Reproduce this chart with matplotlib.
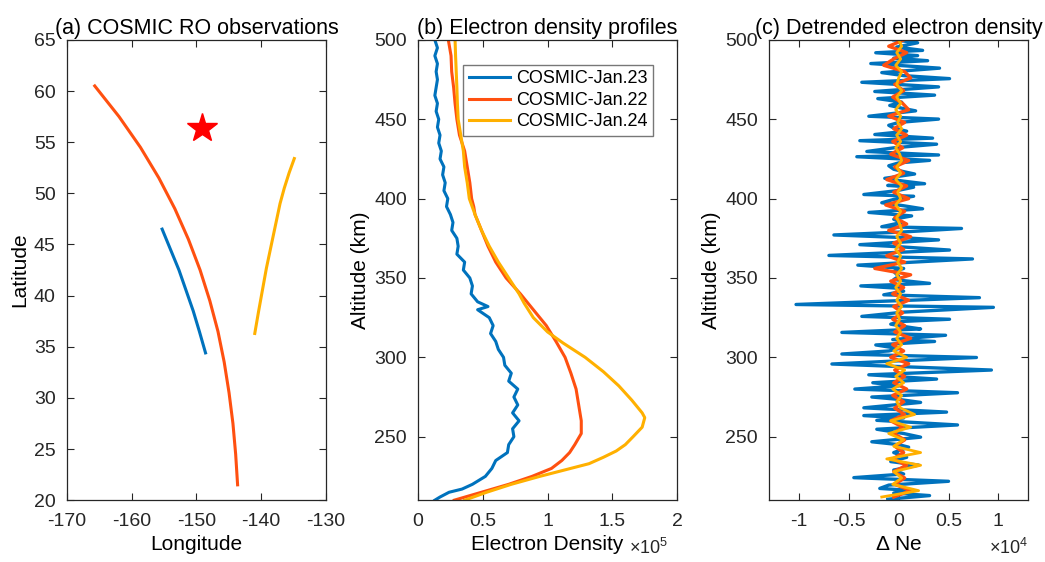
import numpy as np
import matplotlib.pyplot as plt

plt.rcParams['font.family'] = ['Liberation Sans', 'DejaVu Sans']
plt.rcParams['mathtext.fontset'] = 'custom'
plt.rcParams['mathtext.rm'] = 'Liberation Sans'
plt.rcParams['axes.unicode_minus'] = False

C_BLUE = '#0072BD'
C_ORANGE = '#FF5010'
C_YELLOW = '#FFB000'

# (a) RO tangent point tracks (lon, lat)
track23_lon = [-155.3, -154.0, -152.7, -151.6, -150.5, -149.55, -148.6]
track23_lat = [46.5, 44.5, 42.5, 40.5, 38.5, 36.5, 34.4]
track22_lon = [-165.7, -161.95, -158.65, -155.8, -153.34, -151.24, -149.44, -147.94,
               -146.68, -145.72, -144.97, -144.37, -143.95, -143.65]
track22_lat = [60.5, 57.5, 54.5, 51.5, 48.5, 45.5, 42.5, 39.5, 36.5, 33.5, 30.5, 27.5, 24.5, 21.5]
track24_lon = [-141.0, -140.4, -139.8, -139.2, -138.5, -137.8, -137.1, -136.45, -135.7, -134.9]
track24_lat = [36.3, 38.5, 40.6, 42.7, 44.8, 46.9, 49.0, 50.5, 52.0, 53.4]
star_lon, star_lat = -149.1, 56.4

# (b) electron density profiles, x1e5
ne23_alt = [500, 495, 490, 485, 480, 475, 470, 465, 460, 455, 450, 445, 440, 435, 430, 425,
            420, 415, 410, 405, 400, 395, 390, 385, 380, 375, 370, 365, 360, 355, 350, 345,
            340, 335, 332, 330, 325, 320, 315, 310, 305, 300, 295, 290, 285, 280, 275, 270,
            265, 260, 255, 250, 245, 240, 235, 230, 225, 220, 217, 215, 212, 210]
ne23 = [0.13, 0.15, 0.13, 0.15, 0.14, 0.15, 0.14, 0.13, 0.15, 0.14, 0.16, 0.15, 0.17, 0.16, 0.18, 0.17,
        0.20, 0.19, 0.21, 0.20, 0.23, 0.22, 0.25, 0.27, 0.26, 0.30, 0.31, 0.30, 0.36, 0.35, 0.40, 0.42,
        0.41, 0.46, 0.54, 0.46, 0.55, 0.58, 0.56, 0.60, 0.62, 0.66, 0.67, 0.72, 0.70, 0.77, 0.74, 0.77,
        0.73, 0.78, 0.73, 0.74, 0.70, 0.69, 0.60, 0.57, 0.52, 0.42, 0.34, 0.24, 0.17, 0.13]
ne22_alt = [500, 490, 480, 470, 460, 450, 440, 430, 420, 410, 400, 395, 390, 380, 370, 360, 350,
            340, 330, 320, 310, 300, 290, 280, 270, 260, 252, 245, 240, 235, 230, 225, 220, 215, 210]
ne22 = [0.234, 0.255, 0.26, 0.275, 0.286, 0.30, 0.32, 0.36, 0.38, 0.40, 0.414, 0.43, 0.44, 0.49, 0.54, 0.60, 0.68,
        0.79, 0.89, 0.99, 1.065, 1.135, 1.18, 1.22, 1.24, 1.26, 1.26, 1.21, 1.17, 1.11, 1.03, 0.88, 0.70, 0.49, 0.28]
ne24_alt = [500, 490, 480, 470, 460, 450, 440, 430, 420, 410, 400, 390, 380, 370, 360, 350, 340, 334,
            325, 316, 309, 300, 291, 282, 273, 265, 262, 256, 250, 245, 241, 237, 233, 229, 225, 220, 215, 210]
ne24 = [0.286, 0.29, 0.295, 0.30, 0.304, 0.31, 0.33, 0.35, 0.36, 0.38, 0.396, 0.44, 0.49, 0.55, 0.62, 0.70, 0.78, 0.82,
        0.89, 1.00, 1.12, 1.29, 1.43, 1.55, 1.65, 1.73, 1.75, 1.73, 1.66, 1.60, 1.53, 1.43, 1.32, 1.13, 0.94, 0.72, 0.53, 0.36]

# (c) detrended electron density, x1e4
dn23_alt = [500, 498.2, 495.5, 493.4, 491.9, 490.1, 488.5, 486.9, 485.1, 482.2,
            479.4, 477.5, 475.6, 473.3, 470.4, 467.5, 465.2, 463.0, 460.8, 458.7,
            457.0, 455.3, 451.9, 450.1, 448.0, 446.2, 444.4, 442.5, 440.4, 438.1,
            436.5, 434.3, 432.0, 429.7, 427.5, 426.4, 424.1, 422.5, 420.7, 418.5,
            417.0, 415.5, 412.8, 411.0, 409.4, 408.3, 407.2, 405.0, 402.6, 401.5,
            399.5, 397.4, 395.5, 393.6, 391.3, 389.1, 387.0, 385.0, 382.3, 381.2,
            379.0, 377.1, 375.5, 374.0, 371.0, 369.5, 367.6, 364.2, 362.0, 358.1,
            356.0, 354.1, 351.0, 349.0, 346.6, 345.0, 343.5, 341.7, 339.4, 337.6,
            333.3, 331.5, 328.5, 325.8, 324.0, 322.5, 320.9, 319.0, 317.9, 315.7,
            313.9, 311.2, 310.0, 307.8, 305.5, 304.0, 302.1, 299.9, 297.8, 295.8,
            292.0, 289.0, 286.3, 284.0, 282.0, 280.0, 277.7, 275.0, 273.5, 271.6,
            268.2, 265.5, 263.3, 261.8, 260.3, 257.4, 254.7, 252.0, 249.7, 246.8,
            245.0, 243.4, 240.0, 237.0, 234.3, 232.1, 229.0, 226.5, 224.2, 221.9,
            219.5, 217.4, 216.3, 214.5, 212.9, 210.6]
dn23 = [-0.05, 0.19, -0.02, 0.24, -0.23, 0.19, -0.05, 0.29, -0.28, 0.41,
        -0.17, 0.05, 0.51, -0.37, 0.40, -0.24, 0.36, -0.21, 0.03, -0.09,
        0.03, 0.17, -0.30, 0.40, 0.00, -0.10, -0.05, 0.08, -0.24, 0.34,
        -0.39, 0.38, -0.05, -0.32, 0.40, -0.42, 0.31, 0.00, -0.10, -0.05,
        0.05, 0.16, -0.14, 0.05, 0.26, -0.11, 0.15, -0.02, -0.35, 0.15,
        -0.05, -0.17, 0.05, 0.24, -0.30, 0.13, -0.05, 0.03, -0.17, 0.63,
        0.05, -0.65, 0.02, 0.40, -0.39, 0.05, 0.51, -0.70, 0.74, -0.41,
        0.05, -0.05, 0.00, -0.05, 0.31, -0.38, 0.00, 0.05, -0.15, 0.81,
        -1.03, 0.95, 0.05, -0.37, 0.51, 0.00, -0.08, 0.10, 0.22, -0.57,
        0.47, -0.06, 0.36, -0.23, 0.00, -0.10, -0.57, 0.78, 0.00, -0.67,
        0.93, -0.30, 0.38, -0.26, 0.00, -0.44, 0.59, -0.27, 0.00, 0.22,
        -0.35, 0.48, -0.35, 0.05, -0.22, 0.59, -0.22, 0.05, 0.22, -0.27,
        0.00, 0.10, -0.05, 0.08, -0.08, 0.20, -0.05, 0.05, -0.45, 0.50,
        -0.10, -0.19, 0.09, -0.05, 0.31, -0.11]
dn_alt = [500, 496, 492, 488, 484, 480, 476, 472, 468, 464, 460, 456, 452, 448, 444, 440, 436, 432, 428,
          424, 420, 416, 412, 408, 404, 400, 396, 392, 388, 384, 380, 376, 372, 368, 364, 360, 356, 352,
          348, 344, 340, 336, 332, 328, 324, 320, 316, 312, 308, 304, 300, 296, 292, 288, 284, 280, 276,
          272, 268, 264, 260, 256, 252, 248, 244, 240, 236, 232, 228, 224, 220, 216, 212]
dn22 = [0.05, -0.10, 0.08, -0.05, -0.15, 0.06, 0.12, -0.04, 0.05, -0.06, 0.04, 0.10, -0.10, 0.06, -0.05, 0.08, -0.06, 0.04, -0.08,
        0.10, -0.04, 0.05, -0.12, 0.08, -0.05, 0.10, -0.13, 0.06, -0.04, 0.08, -0.10, 0.12, -0.05, 0.05, -0.12, 0.06, -0.24, 0.12,
        -0.08, 0.05, -0.06, 0.10, -0.05, 0.04, -0.06, 0.06, -0.04, 0.12, -0.06, 0.05, -0.08, 0.10, -0.04, 0.06, -0.05, 0.08, -0.06,
        0.05, -0.04, 0.06, -0.08, 0.04, -0.05, 0.06, -0.04, 0.05, -0.06, 0.08, -0.05, 0.06, -0.04, 0.12, -0.05]
dn24 = [0.00, 0.03, -0.02, 0.02, -0.03, 0.03, 0.00, -0.02, 0.03, -0.02, 0.02, -0.03, 0.02, -0.01, 0.03, -0.02, 0.02, -0.03, 0.01,
        0.03, -0.02, 0.02, -0.03, 0.03, -0.01, 0.02, -0.03, 0.02, -0.02, 0.01, 0.03, -0.02, 0.02, -0.03, 0.02, -0.01, 0.03, -0.02,
        0.02, -0.03, 0.02, -0.02, 0.03, -0.02, 0.01, -0.03, 0.02, -0.02, 0.03, -0.05, 0.08, -0.12, 0.06, -0.03, 0.05, -0.06, 0.03,
        -0.02, 0.02, 0.16, -0.08, 0.12, -0.10, 0.05, -0.05, 0.22, -0.12, 0.22, -0.05, 0.03, -0.06, 0.20, -0.17]


def style(ax):
    ax.tick_params(direction='in', top=True, right=True, length=5, width=0.8,
                   labelsize=14, colors='#262626')
    ax.tick_params(axis='x', pad=9)
    ax.tick_params(axis='y', pad=8)
    for s in ax.spines.values():
        s.set_linewidth(0.9)
        s.set_color('#262626')


fig = plt.figure(figsize=(10.45, 5.62), dpi=100)
axw, axh, axb = 0.248, 0.819, 0.110
ax1 = fig.add_axes([0.064, axb, axw, axh])
ax2 = fig.add_axes([0.400, axb, axw, axh])
ax3 = fig.add_axes([0.736, axb, axw, axh])

# (a)
ax1.plot(track23_lon, track23_lat, color=C_BLUE, lw=2.2)
ax1.plot(track22_lon, track22_lat, color=C_ORANGE, lw=2.2)
ax1.plot(track24_lon, track24_lat, color=C_YELLOW, lw=2.2)
ax1.plot(star_lon, star_lat, marker='*', color='red', ms=22, mec='red')
ax1.set_xlim(-170, -130)
ax1.set_ylim(20, 65)
ax1.set_xticks(np.arange(-170, -129, 10))
ax1.set_yticks(np.arange(20, 66, 5))
ax1.set_xlabel('Longitude', fontsize=15, labelpad=4)
ax1.set_ylabel('Latitude', fontsize=15, labelpad=3)
ax1.set_title('(a) COSMIC RO observations', fontsize=15.5, pad=4)
style(ax1)

# (b)
ax2.plot(ne23, ne23_alt, color=C_BLUE, lw=2.2, label='COSMIC-Jan.23')
ax2.plot(ne22, ne22_alt, color=C_ORANGE, lw=2.2, label='COSMIC-Jan.22')
ax2.plot(ne24, ne24_alt, color=C_YELLOW, lw=2.2, label='COSMIC-Jan.24')
ax2.set_xlim(0, 2)
ax2.set_ylim(210, 500)
ax2.set_xticks([0, 0.5, 1, 1.5, 2])
ax2.set_xticklabels(['0', '0.5', '1', '1.5', '2'])
ax2.set_yticks(np.arange(250, 501, 50))
ax2.set_xlabel('Electron Density', fontsize=15, labelpad=4)
ax2.set_ylabel('Altitude (km)', fontsize=15, labelpad=3)
ax2.set_title('(b) Electron density profiles', fontsize=15.5, pad=4)
ax2.text(0.965, -0.104, r'$\times10^5$', transform=ax2.transAxes, fontsize=13,
         ha='right', va='center', color='#262626')
leg = ax2.legend(loc='upper right', bbox_to_anchor=(0.94, 0.965), fontsize=13,
                 fancybox=False, edgecolor='#555555', handlelength=2.3,
                 handletextpad=0.3, borderpad=0.3, labelspacing=0.25)
leg.get_frame().set_linewidth(1.0)
style(ax2)

# (c)
ax3.plot(dn23, dn23_alt, color=C_BLUE, lw=2.4)
ax3.plot(dn22, dn_alt, color=C_ORANGE, lw=2.4)
ax3.plot(dn24, dn_alt, color=C_YELLOW, lw=2.0)
ax3.set_xlim(-1.3, 1.3)
ax3.set_ylim(210, 500)
ax3.set_xticks([-1, -0.5, 0, 0.5, 1])
ax3.set_xticklabels(['-1', '-0.5', '0', '0.5', '1'])
ax3.set_yticks(np.arange(250, 501, 50))
ax3.set_xlabel(r'$\Delta$ Ne', fontsize=15, labelpad=4)
ax3.set_ylabel('Altitude (km)', fontsize=15, labelpad=3)
ax3.set_title('(c) Detrended electron density', fontsize=15.5, pad=4)
ax3.text(1.0, -0.104, r'$\times10^4$', transform=ax3.transAxes, fontsize=13,
         ha='right', va='center', color='#262626')
style(ax3)

fig.savefig('out.png', dpi=100)
